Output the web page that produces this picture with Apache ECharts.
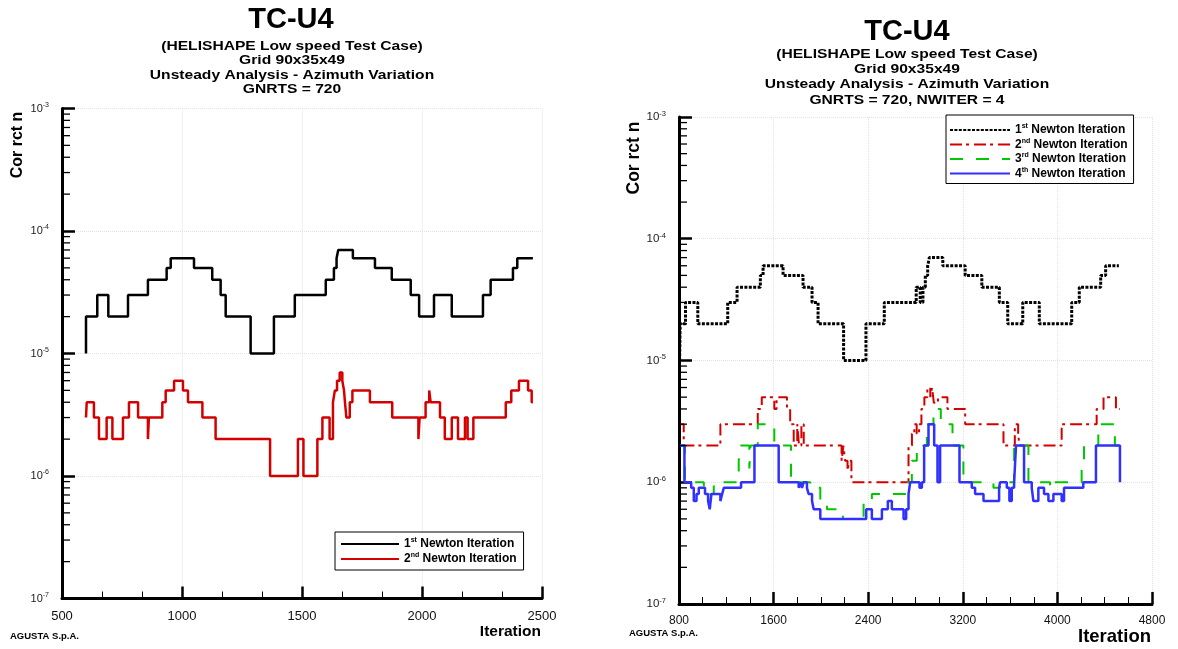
<!DOCTYPE html>
<html><head><meta charset="utf-8">
<script src="https://cdn.jsdelivr.net/npm/echarts@6/dist/echarts.min.js"></script>
<style>html,body{margin:0;padding:0;background:#fff}#c{width:1178px;height:649px}</style>
</head><body><div id="c"></div>
<script>
const FONT = "'Liberation Sans', Arial, Helvetica, sans-serif";

// ---------- axis ticks ----------
const LEFT_X_TICKS = [500, 1000, 1500, 2000, 2500];
const RIGHT_X_TICKS = [800, 1600, 2400, 3200, 4000, 4800];
const Y_DECADES = [1e-7, 1e-6, 1e-5, 1e-4, 1e-3];
const Y_MINOR_MULT = [2, 3, 4, 5, 6, 7, 8, 9];

// ---------- left panel (GNRTS = 720) ----------
const L_ITER_1 = [600,600,647,693,775,858,936,953,1050,1126,1161,1182,1286,1383,1470,1599,1633,1644,1651,1712,1804,1874,1953,1988,2050,2124,2254,2286,2379,2397,2462];
const L_CORR_1 = [1e-5,2e-5,3e-5,2e-5,3e-5,4e-5,5e-5,6e-5,5e-5,4e-5,3e-5,2e-5,1e-5,2e-5,3e-5,4e-5,5e-5,6e-5,7e-5,6e-5,5e-5,4e-5,3e-5,2e-5,3e-5,2e-5,3e-5,4e-5,5e-5,6e-5,6e-5];

const L_ITER_2 = [600,603,633,654,686,710,754,779,817,858,862,918,932,967,1004,1025,1085,1140,1367,1483,1506,1564,1585,1615,1629,1637,1646,1657,1668,1675,1679,1685,1699,1710,1783,1876,1985,1990,2015,2030,2036,2075,2095,2124,2150,2179,2190,2214,2349,2372,2404,2442,2457,2462];
const L_CORR_2 = [3e-6,4e-6,3e-6,2e-6,3e-6,2e-6,3e-6,4e-6,3e-6,2e-6,3e-6,4e-6,5e-6,6e-6,5e-6,4e-6,3e-6,2e-6,1e-6,2e-6,1e-6,2e-6,3e-6,2e-6,4e-6,5e-6,6e-6,7e-6,6e-6,5e-6,4e-6,3e-6,4e-6,5e-6,4e-6,3e-6,2e-6,3e-6,4e-6,5e-6,4e-6,3e-6,2e-6,3e-6,2e-6,3e-6,2e-6,3e-6,4e-6,5e-6,6e-6,5e-6,4e-6,4e-6];

// ---------- right panel (GNRTS = 720, NWITER = 4) ----------
const R_ITER_1 = [805,810,855,959,1212,1291,1488,1511,1680,1849,1925,1976,2192,2381,2536,2806,2840,2863,2883,2903,2917,3031,3220,3361,3509,3580,3707,3847,4121,4185,4366,4408,4520];
const R_CORR_1 = [1e-5,2e-5,3e-5,2e-5,3e-5,4e-5,5e-5,6e-5,5e-5,4e-5,3e-5,2e-5,1e-5,2e-5,3e-5,4e-5,3e-5,4e-5,5e-5,6e-5,7e-5,6e-5,5e-5,4e-5,3e-5,2e-5,3e-5,2e-5,3e-5,4e-5,5e-5,6e-5,6e-5];

const R_ITER_2 = [807,840,1150,1466,1500,1606,1625,1713,1740,1770,1800,1815,1835,1855,2175,2190,2205,2225,2240,2258,2741,2770,2790,2810,2830,2850,2875,2900,2925,2940,2955,2990,3070,3220,3544,3640,3668,3679,4036,4332,4390,4495,4529];
const R_CORR_2 = [3e-6,2e-6,3e-6,4e-6,5e-6,4e-6,5e-6,4e-6,3e-6,2e-6,3e-6,2e-6,3e-6,2e-6,1.5e-6,2e-6,1.5e-6,1.25e-6,1.5e-6,1e-6,2e-6,2.5e-6,3e-6,2.5e-6,3e-6,4e-6,5e-6,6e-6,5e-6,6e-6,4.5e-6,5e-6,4e-6,3e-6,2e-6,3e-6,2.5e-6,2e-6,3e-6,4e-6,5e-6,4e-6,4e-6];

const R_ITER_3 = [807,850,1010,1060,1094,1305,1318,1395,1405,1466,1606,1747,1910,1995,2051,2186,2361,2431,2733,2769,2811,2896,2952,3014,3113,3205,3459,3515,3634,3755,3938,3980,4205,4225,4346,4486,4529];
const R_CORR_3 = [2e-6,1e-6,9e-7,8e-7,1e-6,1.5e-6,2e-6,1.3e-6,2e-6,3e-6,2e-6,1e-6,9e-7,7e-7,6e-7,5e-7,7e-7,8e-7,1e-6,1.5e-6,2e-6,3e-6,4e-6,3e-6,2e-6,1e-6,9e-7,1e-6,2e-6,1e-6,9e-7,1e-6,1.5e-6,2e-6,3e-6,2e-6,2e-6];

const R_ITER_4 = [807,846,903,925,948,967,1020,1046,1060,1074,1150,1165,1179,1325,1438,1643,1812,1826,1840,1854,1882,1896,1925,1939,1995,2383,2431,2516,2566,2600,2699,2721,2741,2755,2834,2854,2873,2910,2958,2986,3008,3172,3276,3304,3375,3507,3515,3572,3594,3614,3634,3650,3718,3783,3797,3839,3887,3924,3966,4036,4056,4219,4326,4529];
const R_CORR_4 = [2e-6,1e-6,9e-7,7e-7,8e-7,9e-7,8e-7,7e-7,6e-7,8e-7,7e-7,8e-7,9e-7,1e-6,2e-6,1e-6,9e-7,1e-6,9e-7,1e-6,9e-7,8e-7,7e-7,6e-7,5e-7,6e-7,5e-7,6e-7,7e-7,6e-7,5e-7,6e-7,8e-7,1e-6,9e-7,1e-6,2e-6,3e-6,2e-6,1e-6,2e-6,1e-6,9e-7,8e-7,7e-7,9e-7,1e-6,9e-7,7e-7,9e-7,1e-6,2e-6,1e-6,9e-7,7e-7,9e-7,8e-7,7e-7,8e-7,7e-7,9e-7,1e-6,2e-6,1e-6];

// ---------- texts ----------
const TITLE = 'TC-U4';
const SUB_LEFT = ['(HELISHAPE Low speed Test Case)', 'Grid 90x35x49', 'Unsteady Analysis - Azimuth Variation', 'GNRTS = 720'];
const SUB_RIGHT = ['(HELISHAPE Low speed Test Case)', 'Grid 90x35x49', 'Unsteady Analysis - Azimuth Variation', 'GNRTS = 720, NWITER = 4'];
const Y_NAME = 'Cor rct n';
const X_NAME = 'Iteration';
const FOOTER = 'AGUSTA S.p.A.';
const LEGEND_NUM = {L1:['1','st'], L2:['2','nd'], R1:['1','st'], R2:['2','nd'], R3:['3','rd'], R4:['4','th']};
const LEGEND_TAIL = ' Newton Iteration';

function pairs(xs, ys){ return xs.map((x, i) => [x, ys[i]]); }
function decadeLabel(v){ const e = Math.round(Math.log10(v)); return '{m|10}{e|' + e + '}'; }

const chart = echarts.init(document.getElementById('c'));

function xAxisDef(gi, ticks, minorSplit, labelSize){
  return {
    type: 'value', gridIndex: gi,
    min: ticks[0], max: ticks[ticks.length - 1], interval: ticks[1] - ticks[0],
    axisLine: {show: true, onZero: false, lineStyle: {color: '#000', width: 3}},
    axisTick: {show: true, inside: true, length: 12, lineStyle: {color: '#000', width: 2.5}},
    minorTick: {show: true, splitNumber: minorSplit, length: 7, lineStyle: {color: '#000', width: 1}},
    splitLine: {show: true, lineStyle: {color: '#e2e2e2', type: 'dotted', width: 1}},
    axisLabel: {color: '#111', fontFamily: FONT, fontSize: labelSize, margin: 11,
                showMinLabel: true, showMaxLabel: true, formatter: v => String(v)}
  };
}
function yAxisDef(gi, sz){
  return {
    type: 'log', logBase: 10, gridIndex: gi,
    min: Y_DECADES[0], max: Y_DECADES[Y_DECADES.length - 1],
    axisLine: {show: true, onZero: false, lineStyle: {color: '#000', width: 3}},
    axisTick: {show: true, inside: true, length: 13, lineStyle: {color: '#000', width: 2.5}},
    minorTick: {show: false},
    splitLine: {show: true, lineStyle: {color: '#e2e2e2', type: 'dotted', width: 1}},
    axisLabel: {
      formatter: decadeLabel, margin: 13, showMinLabel: true, showMaxLabel: true,
      rich: {
        m: {fontFamily: FONT, fontSize: sz, color: '#222', lineHeight: sz + 3},
        e: {fontFamily: FONT, fontSize: sz - 4, color: '#222', verticalAlign: 'top', lineHeight: sz - 2}
      }
    }
  };
}
function legendRich(sz){
  return {
    n: {fontFamily: FONT, fontWeight: 'bold', fontSize: sz, color: '#000', lineHeight: sz + 2},
    s: {fontFamily: FONT, fontWeight: 'bold', fontSize: sz - 5, color: '#000', verticalAlign: 'top', lineHeight: sz - 3},
    t: {fontFamily: FONT, fontWeight: 'bold', fontSize: sz, color: '#000', lineHeight: sz + 2}
  };
}
function legendFmt(n){ return '{n|' + LEGEND_NUM[n][0] + '}{s|' + LEGEND_NUM[n][1] + '}{t|' + LEGEND_TAIL + '}'; }

function line(name, xi, yi, xs, ys, color, width, type){
  return {
    name, type: 'line', xAxisIndex: xi, yAxisIndex: yi, step: 'end', symbol: 'none',
    data: pairs(xs, ys), lineStyle: {color, width, type: type || 'solid'}, itemStyle: {color},
    emphasis: {disabled: true}, silent: true
  };
}

// minor log ticks on the y axes (2..9 within each decade), drawn at the axis
function minorTickSeries(gi, xMin){
  const vals = [];
  for (let d = 0; d < Y_DECADES.length - 1; d++) {
    Y_MINOR_MULT.forEach(m => vals.push([xMin, Y_DECADES[d] * m]));
  }
  return {
    type: 'custom', xAxisIndex: gi, yAxisIndex: gi, silent: true, clip: false, z: 5,
    data: vals,
    renderItem: function (params, api) {
      const p = api.coord([api.value(0), api.value(1)]);
      return {type: 'line', shape: {x1: p[0], y1: p[1], x2: p[0] + 8, y2: p[1]},
              style: {stroke: '#000', lineWidth: 1.3}};
    }
  };
}

function txt(x, y, text, size, opts){
  opts = opts || {};
  return {
    type: 'text', x, y, rotation: opts.rot || 0, scaleX: opts.sx || 1,
    style: {text, fill: '#000', fontFamily: FONT, fontWeight: opts.weight || 'bold', fontSize: size,
            align: opts.align || 'center', verticalAlign: 'middle'}
  };
}

const graphics = [
  txt(291, 20, TITLE, 29),
  txt(292, 46, SUB_LEFT[0], 13, {sx: 1.2}),
  txt(292, 60.5, SUB_LEFT[1], 13, {sx: 1.2}),
  txt(292, 75, SUB_LEFT[2], 13, {sx: 1.2}),
  txt(292, 89.5, SUB_LEFT[3], 13, {sx: 1.2}),
  txt(907, 32, TITLE, 29),
  txt(907, 54.5, SUB_RIGHT[0], 13, {sx: 1.2}),
  txt(907, 69.5, SUB_RIGHT[1], 13, {sx: 1.2}),
  txt(907, 84.5, SUB_RIGHT[2], 13, {sx: 1.2}),
  txt(907, 100, SUB_RIGHT[3], 13, {sx: 1.2}),
  txt(18, 145, Y_NAME, 16, {rot: Math.PI / 2}),
  txt(634, 158, Y_NAME, 17.5, {rot: Math.PI / 2}),
  txt(541, 632, X_NAME, 15.5, {align: 'right'}),
  txt(1151, 637, X_NAME, 18.5, {align: 'right'}),
  txt(10, 636, FOOTER, 9.5, {align: 'left'}),
  txt(629, 633, FOOTER, 9.5, {align: 'left'})
];

const legendCommon = {
  orient: 'vertical', itemHeight: 12, borderColor: '#000', borderWidth: 1, backgroundColor: '#fff',
  selectedMode: false, formatter: legendFmt, textStyle: {rich: legendRich(12)},
  itemStyle: {opacity: 0, borderWidth: 0}
};

chart.setOption({
  animation: false,
  backgroundColor: '#fff',
  grid: [
    {left: 62, top: 108.5, width: 480, height: 490, containLabel: false},
    {left: 679, top: 117, width: 473, height: 487, containLabel: false}
  ],
  xAxis: [xAxisDef(0, LEFT_X_TICKS, 3, 13), xAxisDef(1, RIGHT_X_TICKS, 4, 12)],
  yAxis: [yAxisDef(0, 11), yAxisDef(1, 11.5)],
  legend: [
    Object.assign({}, legendCommon, {
      data: ['L1', 'L2'], left: 335, top: 532,
      itemWidth: 58, itemGap: 2, padding: [5, 7, 5, 5]
    }),
    Object.assign({}, legendCommon, {
      data: ['R1', 'R2', 'R3', 'R4'], left: 946, top: 115,
      itemWidth: 60, itemGap: 1.5, padding: [8, 6, 4, 3]
    })
  ],
  series: [
    minorTickSeries(0, LEFT_X_TICKS[0]),
    minorTickSeries(1, RIGHT_X_TICKS[0]),
    line('L1', 0, 0, L_ITER_1, L_CORR_1, '#000000', 2.5),
    line('L2', 0, 0, L_ITER_2, L_CORR_2, '#d40000', 2.5),
    line('R1', 1, 1, R_ITER_1, R_CORR_1, '#000000', 3, [3, 1.4]),
    line('R2', 1, 1, R_ITER_2, R_CORR_2, '#d40000', 2, [12, 4, 3, 5]),
    line('R3', 1, 1, R_ITER_3, R_CORR_3, '#00c800', 2, [13, 13]),
    line('R4', 1, 1, R_ITER_4, R_CORR_4, '#3030ff', 2.5)
  ],
  graphic: graphics
});
</script>
</body></html>
